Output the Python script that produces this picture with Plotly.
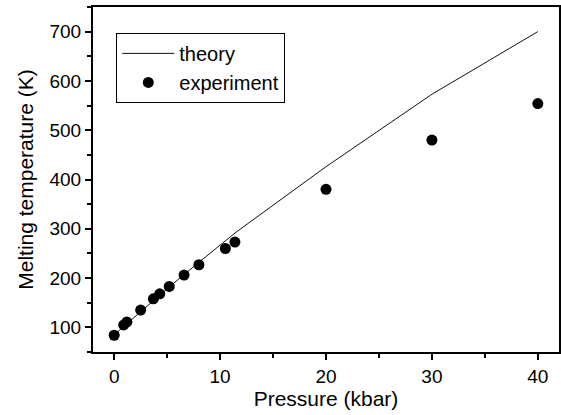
import plotly.graph_objects as go

# Theory curve (kbar, K)
theory_p = [0, 2.5, 5.2, 8, 11.5, 20, 30, 40]
theory_t = [85, 132, 182, 232, 293, 426, 573, 700]

# Experimental points (kbar, K)
exp_p = [0, 0.9, 1.2, 2.5, 3.7, 4.3, 5.2, 6.6, 8.0, 10.5, 11.4, 20, 30, 40]
exp_t = [84, 105, 111, 135, 158, 168, 183, 206, 227, 260, 273, 380, 480, 554]

x_ticks = [0, 10, 20, 30, 40]
y_ticks = [100, 200, 300, 400, 500, 600, 700]

font_family = "Arial, 'Liberation Sans', Helvetica, sans-serif"

fig = go.Figure()
fig.add_trace(go.Scatter(x=theory_p, y=theory_t, mode="lines", name="theory",
                         line=dict(color="#111111", width=1)))
fig.add_trace(go.Scatter(x=exp_p, y=exp_t, mode="markers", name="experiment",
                         marker=dict(color="black", size=11)))

axis_common = dict(showline=True, linecolor="black", linewidth=2, mirror=True,
                   ticks="outside", ticklen=6, tickwidth=2, tickcolor="black",
                   showgrid=False, zeroline=False, automargin=False,
                   tickfont=dict(family=font_family, size=19, color="black"))

fig.update_xaxes(range=[-2, 42], tickvals=x_ticks,
                 title=dict(text="Pressure (kbar)", font=dict(family=font_family, size=21, color="black"), standoff=4),
                 minor=dict(ticks="outside", ticklen=4, tickwidth=2, tickcolor="black", dtick=5, tick0=0),
                 **axis_common)
fig.update_yaxes(range=[50, 750], tickvals=y_ticks,
                 title=dict(text="Melting temperature (K)", font=dict(family=font_family, size=21, color="black"), standoff=10),
                 minor=dict(ticks="outside", ticklen=4, tickwidth=2, tickcolor="black", dtick=50, tick0=0),
                 **axis_common)

fig.update_layout(
    width=561, height=415,
    margin=dict(l=93, r=2, t=7, b=63),
    paper_bgcolor="white", plot_bgcolor="white",
    showlegend=True,
    legend=dict(x=0.05, y=0.925, xanchor="left", yanchor="top",
                bordercolor="black", borderwidth=1, bgcolor="white",
                font=dict(family=font_family, size=20, color="black"),
                tracegroupgap=0, itemwidth=52),
)

fig.write_html("out.html", config={"displayModeBar": False},
               post_script="document.body.style.margin='0';document.body.style.padding='0';")
